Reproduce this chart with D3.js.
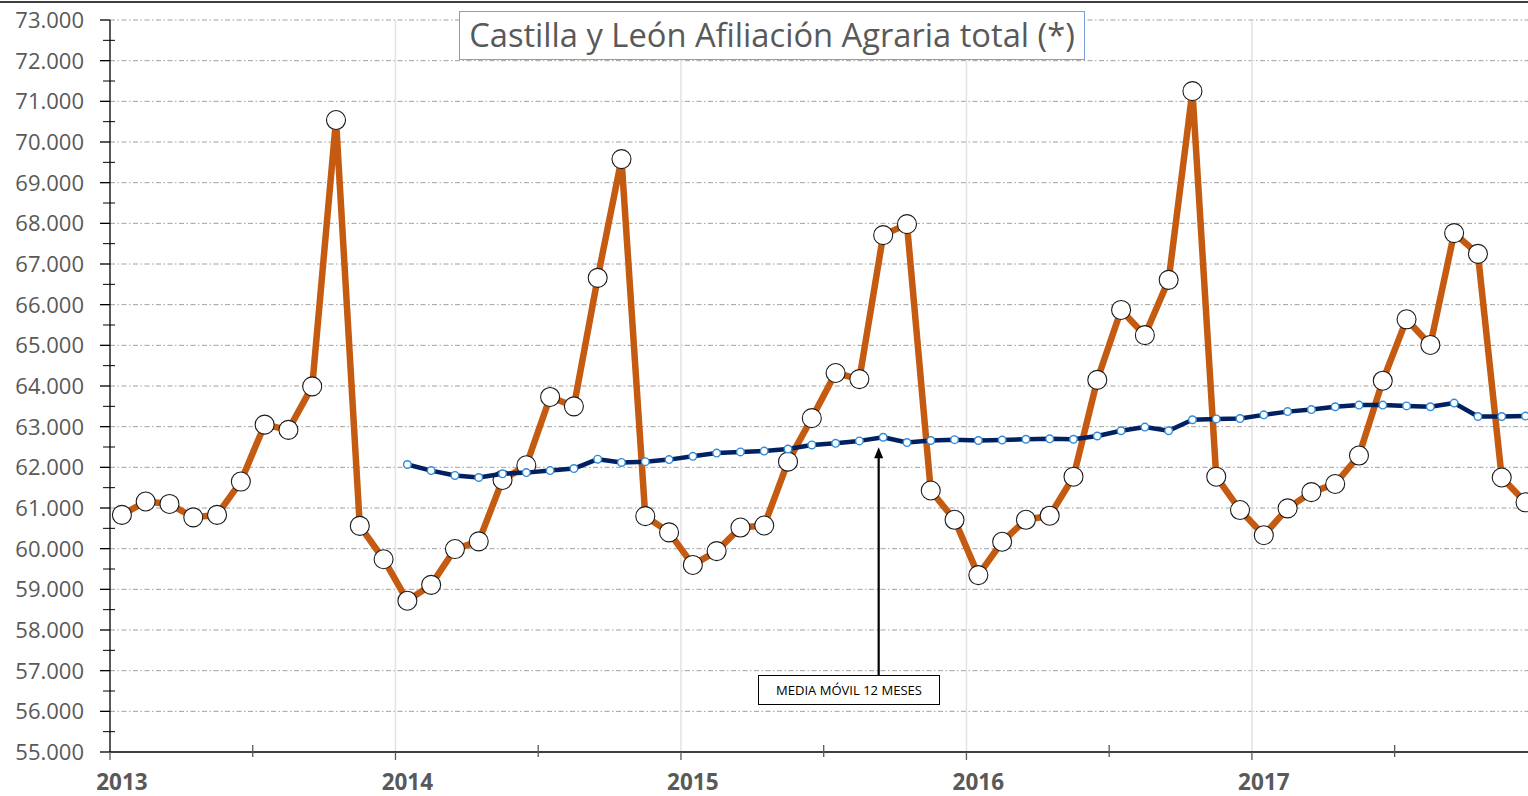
<!DOCTYPE html>
<html>
<head>
<meta charset="utf-8">
<script src="https://cdn.jsdelivr.net/npm/d3@7"></script>
<style>
  html, body { margin: 0; padding: 0; background: #fff; }
  svg { display: block; font-family: "Open Sans", "Liberation Sans", sans-serif; }
</style>
</head>
<body>
<div id="chart"></div>
<script>
// Data
const years = [2013, 2014, 2015, 2016, 2017];
const yTicks = [55000, 56000, 57000, 58000, 59000, 60000, 61000, 62000, 63000,
  64000, 65000, 66000, 67000, 68000, 69000, 70000, 71000, 72000, 73000];

// Afiliación mensual, ene-2013 .. dic-2017
const afiliacion = [
  60830, 61160, 61100, 60770, 60830, 61650, 63050, 62920, 63990, 70540, 60560, 59740,
  58720, 59110, 59990, 60180, 61690, 62050, 63730, 63500, 66660, 69580, 60800, 60400,
  59600, 59940, 60520, 60570, 62140, 63210, 64320, 64170, 67710, 67980, 61430, 60710,
  59350, 60170, 60710, 60810, 61770, 64150, 65870, 65250, 66610, 71250, 61770, 60950,
  60330, 60990, 61390, 61590, 62290, 64130, 65640, 65010, 67760, 67250, 61750, 61140
];

// Media móvil 12 meses, desde ene-2014
const mediaMovil = [
  null, null, null, null, null, null, null, null, null, null, null, null,
  62070, 61920, 61800, 61750, 61840, 61870, 61920, 61970, 62200, 62120, 62140, 62190,
  62270, 62350, 62380, 62400, 62450, 62550, 62590, 62650, 62740, 62610, 62660, 62680,
  62660, 62670, 62690, 62700, 62690, 62770, 62900, 62990, 62900, 63170, 63190, 63200,
  63290, 63370, 63420, 63490, 63530, 63530, 63510, 63490, 63580, 63250, 63250, 63260
];

const title = 'Castilla y León Afiliación Agraria total (*)';
const annotation = 'MEDIA MÓVIL 12 MESES';
const annotatedMonth = '2015-09';

const months = years.flatMap(yr => d3.range(1, 13).map(m => `${yr}-${String(m).padStart(2, '0')}`));

(function draw() {
  const width = 1528, height = 796;
  const mLeft = 110, mBottom = 752, mTop = 20;
  const monthW = 23.79;

  const svg = d3.select('#chart').append('svg')
    .attr('width', width).attr('height', height);

  const x = d3.scaleBand().domain(months).range([mLeft, mLeft + monthW * months.length]);
  const y = d3.scaleLinear().domain([55000, 73000]).range([mBottom, mTop]);
  const cx = m => x(m) + x.bandwidth() / 2;

  const esLocale = d3.formatLocale({ decimal: ',', thousands: '.', grouping: [3], currency: ['', '€'] });
  const fmt = esLocale.format(',');

  // top border
  svg.append('line')
    .attr('x1', 0).attr('x2', width).attr('y1', 2).attr('y2', 2)
    .attr('stroke', '#000').attr('stroke-width', 1.5);

  // Horizontal gridlines (dash-dot)
  svg.append('g').selectAll('line')
    .data(yTicks.slice(1)).enter().append('line')
    .attr('x1', mLeft).attr('x2', width)
    .attr('y1', d => y(d)).attr('y2', d => y(d))
    .attr('stroke', '#a0a0a0').attr('stroke-width', 1)
    .attr('stroke-dasharray', '5,2.5,1.5,2.5');

  // Vertical gridlines at year boundaries
  svg.append('g').selectAll('line')
    .data(years.slice(1)).enter().append('line')
    .attr('x1', d => x(`${d}-01`)).attr('x2', d => x(`${d}-01`))
    .attr('y1', mTop).attr('y2', mBottom)
    .attr('stroke', '#e2e2e2').attr('stroke-width', 1.5);

  // Y axis
  svg.append('line')
    .attr('x1', mLeft).attr('x2', mLeft).attr('y1', mTop).attr('y2', mBottom)
    .attr('stroke', '#000').attr('stroke-width', 1.3);
  svg.append('g').selectAll('line')
    .data(yTicks).enter().append('line')
    .attr('x1', mLeft - 10).attr('x2', mLeft)
    .attr('y1', d => y(d)).attr('y2', d => y(d))
    .attr('stroke', '#000').attr('stroke-width', 1.3);
  svg.append('g').selectAll('line')
    .data(yTicks.slice(1).map(d => d - 500)).enter().append('line')
    .attr('x1', mLeft - 7).attr('x2', mLeft + 5)
    .attr('y1', d => y(d)).attr('y2', d => y(d))
    .attr('stroke', '#000').attr('stroke-width', 1);
  svg.append('g').selectAll('text')
    .data(yTicks).enter().append('text')
    .attr('x', 84).attr('y', d => y(d)).attr('dy', '0.36em')
    .attr('text-anchor', 'end')
    .attr('font-size', '22px').attr('fill', '#595959')
    .text(d => fmt(d));

  // X axis
  svg.append('line')
    .attr('x1', mLeft).attr('x2', width).attr('y1', mBottom).attr('y2', mBottom)
    .attr('stroke', '#000').attr('stroke-width', 1.3);
  const tickMonths = months.filter((m, i) => i % 6 === 0);
  svg.append('g').selectAll('line')
    .data(tickMonths).enter().append('line')
    .attr('x1', d => x(d)).attr('x2', d => x(d))
    .attr('y1', d => d.endsWith('-01') ? mBottom : mBottom - 7)
    .attr('y2', d => d.endsWith('-01') ? mBottom + 8 : mBottom + 5)
    .attr('stroke', '#595959').attr('stroke-width', 1.3);
  svg.append('g').selectAll('text')
    .data(years).enter().append('text')
    .attr('x', d => cx(`${d}-01`)).attr('y', 790)
    .attr('text-anchor', 'middle')
    .attr('font-size', '22.5px').attr('font-weight', '700').attr('fill', '#595959')
    .text(d => d);

  // Afiliación series
  const series = months.map((m, i) => ({ m, v: afiliacion[i] }));
  svg.append('path')
    .datum(series)
    .attr('fill', 'none').attr('stroke', '#C55A11').attr('stroke-width', 6.5)
    .attr('stroke-linejoin', 'round')
    .attr('d', d3.line().x(d => cx(d.m)).y(d => y(d.v)));
  svg.append('g').selectAll('circle')
    .data(series).enter().append('circle')
    .attr('cx', d => cx(d.m)).attr('cy', d => y(d.v)).attr('r', 9.5)
    .attr('fill', '#fff').attr('stroke', '#1a1a1a').attr('stroke-width', 1.1);

  // Media móvil series
  const ma = months.map((m, i) => ({ m, v: mediaMovil[i] })).filter(d => d.v != null);
  svg.append('path')
    .datum(ma)
    .attr('fill', 'none').attr('stroke', '#002060').attr('stroke-width', 4.5)
    .attr('stroke-linejoin', 'round')
    .attr('d', d3.line().x(d => cx(d.m)).y(d => y(d.v)));
  svg.append('g').selectAll('circle')
    .data(ma).enter().append('circle')
    .attr('cx', d => cx(d.m)).attr('cy', d => y(d.v)).attr('r', 3.8)
    .attr('fill', '#fff').attr('stroke', '#2E8BD8').attr('stroke-width', 1.4);

  // Annotation arrow and box (arrow sits a little left of the point, as in the original)
  const ax = cx(annotatedMonth) - 4.5;
  const aTip = y(mediaMovil[months.indexOf(annotatedMonth)]) + 10;
  svg.append('line')
    .attr('x1', ax).attr('x2', ax).attr('y1', 675).attr('y2', aTip + 8)
    .attr('stroke', '#000').attr('stroke-width', 2.2);
  svg.append('path')
    .attr('d', `M${ax},${aTip} L${ax - 4.5},${aTip + 11} L${ax + 4.5},${aTip + 11} Z`)
    .attr('fill', '#000');
  svg.append('rect')
    .attr('x', 758.5).attr('y', 675.5).attr('width', 181).attr('height', 29)
    .attr('fill', '#fff').attr('stroke', '#000').attr('stroke-width', 1);
  const ann = svg.append('text')
    .attr('x', 849).attr('y', 695)
    .attr('text-anchor', 'middle')
    .attr('font-size', '12px').attr('fill', '#000')
    .text(annotation);
  const annW = ann.node().getComputedTextLength();
  ann.attr('font-size', (12 * 146 / annW).toFixed(2) + 'px');

  // Title box
  svg.append('rect')
    .attr('x', 459.5).attr('y', 11.5).attr('width', 625).attr('height', 48)
    .attr('fill', '#fff').attr('stroke', '#7C9FDB').attr('stroke-width', 1);
  const t = svg.append('text')
    .attr('x', 772).attr('y', 47)
    .attr('text-anchor', 'middle')
    .attr('font-size', '30px').attr('fill', '#595959')
    .text(title);
  const tw = t.node().getComputedTextLength();
  t.attr('font-size', (30 * 606 / tw).toFixed(2) + 'px');
})();
</script>
</body>
</html>
